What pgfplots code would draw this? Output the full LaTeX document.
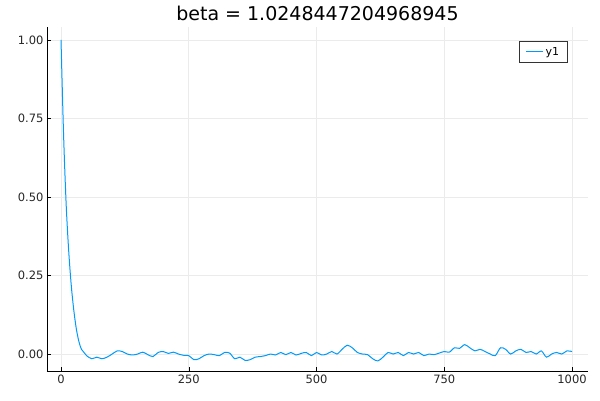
\documentclass[border=0pt]{standalone}
\usepackage{pgfplots}
\pgfplotsset{compat=1.18}
\usepackage{fontspec}
\setmainfont{DejaVu Sans}
\definecolor{jl}{RGB}{0,154,250}
\begin{document}
\begin{tikzpicture}
\path[use as bounding box] (0,0) rectangle (600pt,400pt);
\begin{axis}[at={(47pt,29pt)},anchor=south west,scale only axis,width=541pt,height=344pt,
 xmin=-27.4,xmax=1031.3,ymin=-0.054,ymax=1.041,
 axis lines=left, axis line style={-,line width=0.8pt},
 xtick={0,250,500,750,1000}, ytick={0,0.25,0.5,0.75,1},
 xticklabel style={/pgf/number format/.cd,set thousands separator={}},
 yticklabel style={/pgf/number format/.cd,fixed,fixed zerofill,precision=2},
 /pgf/number format/assume math mode=true,
 ticklabel style={font=\fontsize{11.5}{13}\selectfont, text=black!85},
 grid=major, grid style={black!8, line width=0.6pt},
 tick style={black}, tick align=inside, major tick length=4pt,
 title={beta = 1.0248447204968945}, title style={font=\fontsize{19}{22}\selectfont, yshift=-3pt},
 legend style={at={(0.962,0.96)},anchor=north east,font=\fontsize{11}{13}\selectfont,draw=black!80,line width=0.8pt,inner xsep=6pt,inner ysep=4pt},
 legend cell align=left]
\addplot[jl,line width=1pt,smooth] coordinates {
(0,1)(5,0.70)(10,0.48)(15,0.33)(20,0.22)(25,0.14)(30,0.08)(35,0.04)(40,0.015)(45,0.005)(50,-0.005)(60,-0.015)(70,-0.01)(80,-0.015)(90,-0.01)(100,0)(110,0.01)(120,0.008)(130,0.0)(140,-0.003)(150,0.0)(160,0.006)(170,-0.002)(180,-0.008)(190,0.005)(200,0.008)(210,0.002)(220,0.006)(230,0.0)(240,-0.004)(250,-0.005)(260,-0.018)(270,-0.015)(280,-0.005)(290,0.0)(300,-0.002)(310,-0.005)(320,0.005)(330,0.003)(340,-0.015)(350,-0.01)(360,-0.02)(370,-0.018)(380,-0.01)(390,-0.008)(400,-0.005)(410,0.0)(420,-0.003)(430,0.005)(440,-0.002)(450,0.005)(460,-0.003)(470,0.002)(480,0.005)(490,-0.005)(500,0.005)(510,-0.003)(520,0.0)(530,0.008)(540,0.0)(550,0.015)(560,0.028)(570,0.02)(580,0.005)(590,0.0)(600,-0.002)(610,-0.015)(620,-0.022)(630,-0.01)(640,0.005)(650,0.0)(660,0.005)(670,-0.005)(680,0.005)(690,0.0)(700,0.005)(710,-0.005)(720,0.0)(730,-0.002)(740,0.003)(750,0.008)(760,0.006)(770,0.02)(780,0.018)(790,0.03)(800,0.02)(810,0.01)(820,0.015)(830,0.008)(840,0.0)(850,-0.005)(860,0.02)(870,0.015)(880,0.0)(890,0.01)(900,0.015)(910,0.005)(920,0.008)(930,0.0)(940,0.01)(950,-0.01)(960,0.0)(970,0.005)(980,0.0)(990,0.01)(1000,0.008)};
\addlegendentry{y1}
\end{axis}
\end{tikzpicture}
\end{document}
